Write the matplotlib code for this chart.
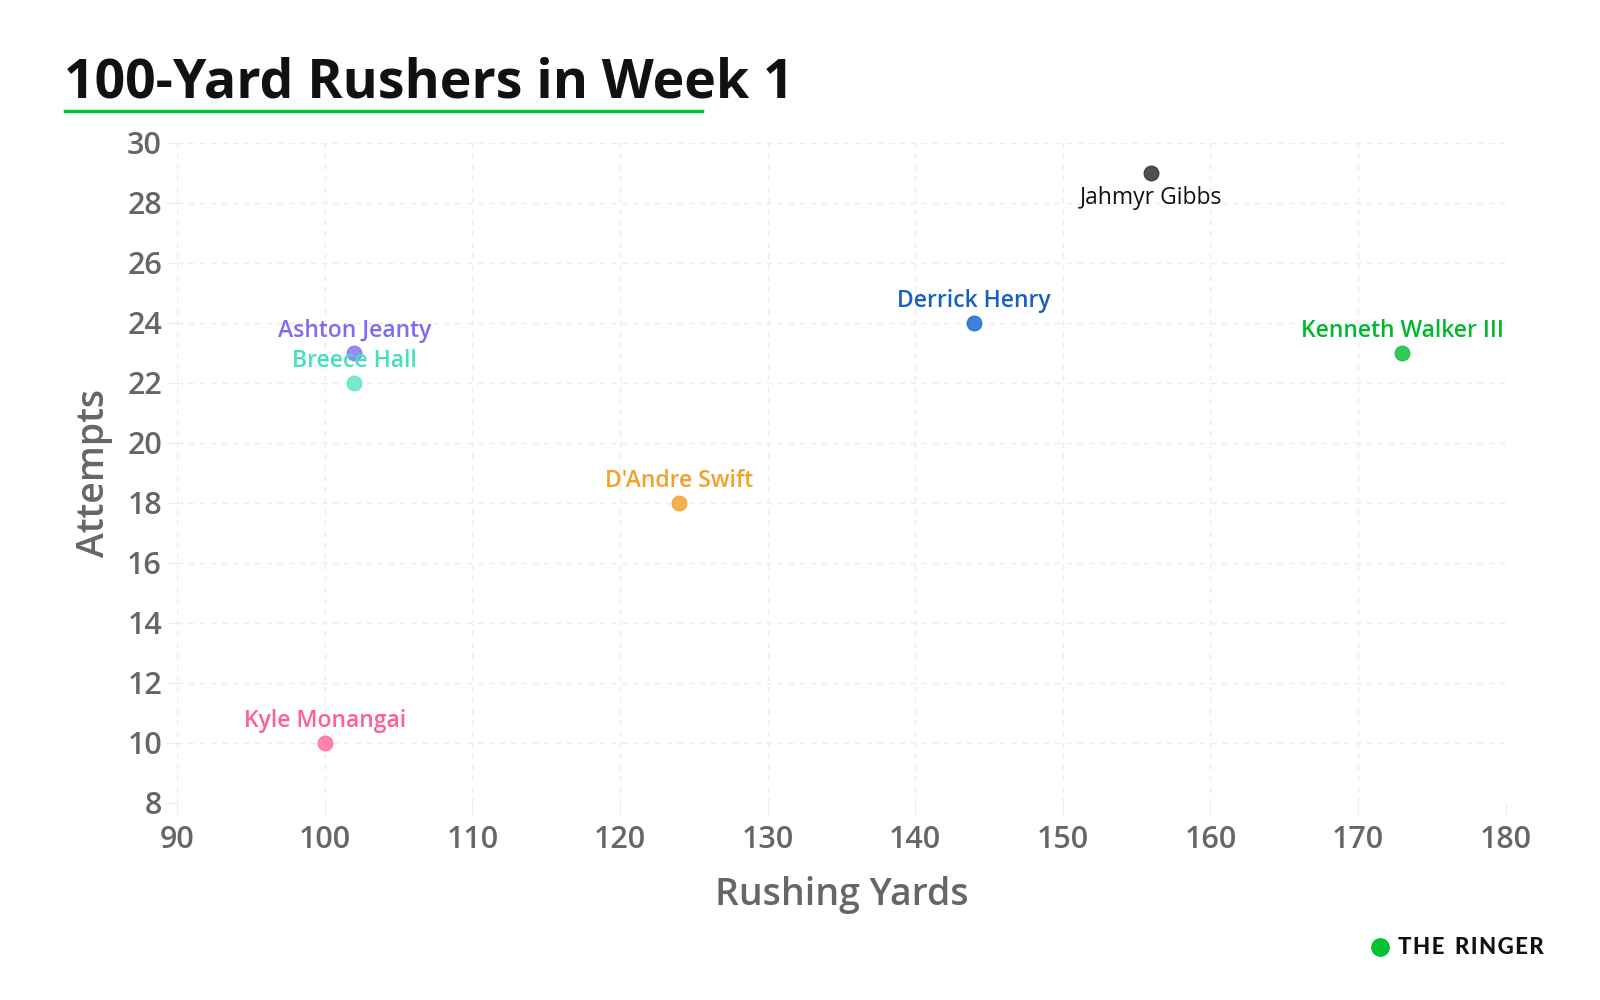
import matplotlib
matplotlib.use("Agg")
import matplotlib.pyplot as plt
from matplotlib.lines import Line2D

# data
players = ["Jahmyr Gibbs", "Derrick Henry", "Kenneth Walker III", "Ashton Jeanty",
           "Breece Hall", "D'Andre Swift", "Kyle Monangai"]
yards = [156, 144, 173, 102, 102, 124, 100]
attempts = [29, 24, 23, 23, 22, 18, 10]
dot_colors = ["#333333", "#1f6cd0", "#10c040", "#8477f0", "#5fe6c6", "#f5a530", "#ff6f9c"]
text_colors = ["#111111", "#1560c0", "#00b82e", "#7c6cf2", "#45dfbf", "#f2a02a", "#ff5f93"]
label_below = [True, False, False, False, False, False, False]

x_ticks = [90, 100, 110, 120, 130, 140, 150, 160, 170, 180]
y_ticks = [8, 10, 12, 14, 16, 18, 20, 22, 24, 26, 28, 30]

plt.rcParams['font.family'] = ['Open Sans', 'DejaVu Sans']

fig = plt.figure(figsize=(16, 10), dpi=100)
ax = fig.add_axes([0.1108, 0.197, 0.8302, 0.66])

grid_col = "#ececec"
ax.set_xlim(90, 180)
ax.set_ylim(8, 30)
ax.set_xticks(x_ticks)
ax.set_yticks(y_ticks)
ax.grid(True, color=grid_col, linestyle=(0, (4, 4)), linewidth=1)
ax.set_axisbelow(True)
for s in ax.spines.values():
    s.set_visible(False)
ax.tick_params(axis="both", length=8, color=grid_col, labelsize=22,
               labelcolor="#666666")
ax.tick_params(axis="x", pad=8)
ax.tick_params(axis="y", pad=3)
for lab in ax.get_xticklabels() + ax.get_yticklabels():
    lab.set_fontweight("semibold")

for name, x, y, dc, tc, below in zip(players, yards, attempts, dot_colors,
                                      text_colors, label_below):
    ax.scatter(x, y, s=110, color=dc, alpha=0.85, edgecolor=dc, linewidth=1, zorder=3)
    off = -25 if below else 22
    wt = "normal" if below else "semibold"
    ax.annotate(name, (x, y), xytext=(0, off), textcoords="offset pixels",
                ha="center", va="center", fontsize=16.5, color=tc,
                fontweight=wt, zorder=4)

ax.set_xlabel("Rushing Yards", fontsize=27, color="#666666", fontweight="semibold", labelpad=15)
ax.set_ylabel("Attempts", fontsize=27, color="#666666", fontweight="semibold", labelpad=10)

# title and green underline
fig.text(0.040, 0.903, "100-Yard Rushers in Week 1", fontsize=38.6, fontweight="bold",
         color="#111111", ha="left", va="baseline")
fig.add_artist(Line2D([0.0406, 0.4385], [0.889, 0.889], color="#00c234", linewidth=2.5))

# logo
fig.add_artist(Line2D([0.8625], [0.053], marker="o", markersize=12.5, color="#00c234"))
hs = "\u200a"
fig.text(0.874, 0.053, hs.join("THE") + "  " + hs.join("RINGER"), fontsize=16,
         fontweight="black", family=["Lato", "DejaVu Sans"],
         color="#111111", ha="left", va="center")

fig.savefig("out.png", dpi=100, facecolor="white")
